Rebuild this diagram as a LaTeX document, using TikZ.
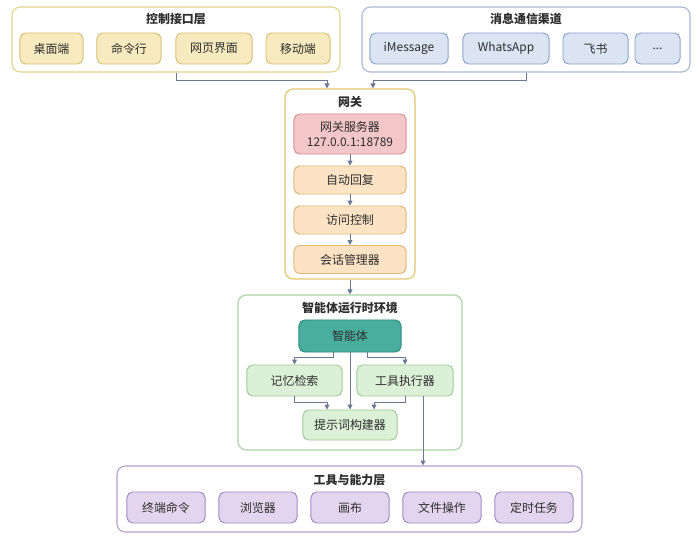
\documentclass[tikz,border=0pt]{standalone}
\usepackage{fontspec}
\setmainfont{Noto Sans CJK SC}
\usepackage{xcolor}
\usetikzlibrary{arrows.meta, calc}
\definecolor{ylwline}{HTML}{E6D28C}
\definecolor{ylwfill}{HTML}{F8EABF}
\definecolor{ylwdraw}{HTML}{D8BF78}
\definecolor{bluline}{HTML}{A9B9D6}
\definecolor{blufill}{HTML}{DAE4F3}
\definecolor{bludraw}{HTML}{8EA3C8}
\definecolor{gwline}{HTML}{E2C46E}
\definecolor{redfill}{HTML}{F3C6C8}
\definecolor{reddraw}{HTML}{D98E92}
\definecolor{orgfill}{HTML}{FCE3C4}
\definecolor{orgdraw}{HTML}{E3B67A}
\definecolor{grnline}{HTML}{A9D3A4}
\definecolor{grnfill}{HTML}{DCEFD7}
\definecolor{grndraw}{HTML}{9FCC98}
\definecolor{tealfill}{HTML}{4AAE9E}
\definecolor{tealdraw}{HTML}{2E8A7C}
\definecolor{purline}{HTML}{B2A0CF}
\definecolor{purfill}{HTML}{E3D5EE}
\definecolor{purdraw}{HTML}{A08BC4}
\definecolor{arrgray}{HTML}{6B7891}
\definecolor{txtdark}{HTML}{2E2E2E}
\tikzset{
    lyr/.style={draw=#1, line width=0.8pt, rounded corners=6pt, fill=white, inner sep=0pt},
    ttl/.style={font=\fontsize{8.5}{10.5}\selectfont\bfseries, text=txtdark, inner sep=0pt},
    cell/.style n args={2}{draw=#2, fill=#1, line width=0.7pt, rounded corners=4pt,
        inner sep=0pt, text=txtdark, align=center},
    arr/.style={draw=arrgray, line width=0.7pt, -{Triangle[length=3.5pt, width=3.5pt]}},
    dia/.style={x=0.025cm, y=-0.025cm, font=\fontsize{8.5}{10.5}\selectfont}
}

\begin{document}
\begin{tikzpicture}[dia]
    \useasboundingbox (0,0) rectangle (700,546);

    % control layer
    \node[lyr=ylwline, minimum width=8.2cm, minimum height=1.625cm] (ctrl) at (176,39.5) {};
    \node[ttl] (ctrlt) at (176,19) {控制接口层};
    \node[cell={ylwfill}{ylwdraw}, minimum width=1.575cm, minimum height=0.775cm] (desk) at (51.5,48.5) {桌面端};
    \node[cell={ylwfill}{ylwdraw}, minimum width=1.6cm, minimum height=0.775cm] (cli) at (129,48.5) {命令行};
    \node[cell={ylwfill}{ylwdraw}, minimum width=1.9cm, minimum height=0.775cm] (web) at (214,48.5) {网页界面};
    \node[cell={ylwfill}{ylwdraw}, minimum width=1.6cm, minimum height=0.775cm] (mob) at (298,48.5) {移动端};

    % message channels
    \node[lyr=bluline, minimum width=8.2cm, minimum height=1.625cm] (msg) at (526,39.5) {};
    \node[ttl] (msgt) at (526,19) {消息通信渠道};
    \node[cell={blufill}{bludraw}, minimum width=1.95cm, minimum height=0.775cm] (imsg) at (409,48.5) {iMessage};
    \node[cell={blufill}{bludraw}, minimum width=2.15cm, minimum height=0.775cm] (wa) at (506,48.5) {WhatsApp};
    \node[cell={blufill}{bludraw}, minimum width=1.625cm, minimum height=0.775cm] (fs) at (595.5,48.5) {飞书};
    \node[cell={blufill}{bludraw}, minimum width=1.125cm, minimum height=0.775cm] (more) at (657.5,48.5) {...};

    % gateway
    \node[lyr=gwline, minimum width=3.25cm, minimum height=4.75cm] (gw) at (350,184) {};
    \node[ttl] (gwt) at (350,102) {网关};
    \node[cell={redfill}{reddraw}, minimum width=2.8cm, minimum height=1cm] (srv) at (350,134) {网关服务器\\127.0.0.1:18789};
    \node[cell={orgfill}{orgdraw}, minimum width=2.8cm, minimum height=0.7cm] (auto) at (350,180) {自动回复};
    \node[cell={orgfill}{orgdraw}, minimum width=2.8cm, minimum height=0.7cm] (acl) at (350,220) {访问控制};
    \node[cell={orgfill}{orgdraw}, minimum width=2.8cm, minimum height=0.7cm] (sess) at (350,259.5) {会话管理器};

    % agent runtime
    \node[lyr=grnline, minimum width=5.6cm, minimum height=3.875cm] (rt) at (350,372.5) {};
    \node[ttl] (rtt) at (350,308) {智能体运行时环境};
    \node[cell={tealfill}{tealdraw}, minimum width=2.55cm, minimum height=0.8cm] (agent) at (350,336) {智能体};
    \node[cell={grnfill}{grndraw}, minimum width=2.375cm, minimum height=0.775cm] (mem) at (294.5,380.5) {记忆检索};
    \node[cell={grnfill}{grndraw}, minimum width=2.4cm, minimum height=0.775cm] (tool) at (405,380.5) {工具执行器};
    \node[cell={grnfill}{grndraw}, minimum width=2.35cm, minimum height=0.75cm] (prompt) at (350,425) {提示词构建器};

    % tools layer
    \node[lyr=purline, minimum width=11.625cm, minimum height=1.65cm] (tl) at (349.5,499) {};
    \node[ttl] (tlt) at (349.5,480) {工具与能力层};
    \node[cell={purfill}{purdraw}, minimum width=1.95cm, minimum height=0.775cm] (term) at (166,507.5) {终端命令};
    \node[cell={purfill}{purdraw}, minimum width=1.95cm, minimum height=0.775cm] (brw) at (258,507.5) {浏览器};
    \node[cell={purfill}{purdraw}, minimum width=1.95cm, minimum height=0.775cm] (cvs) at (350,507.5) {画布};
    \node[cell={purfill}{purdraw}, minimum width=1.95cm, minimum height=0.775cm] (file) at (442,507.5) {文件操作};
    \node[cell={purfill}{purdraw}, minimum width=1.95cm, minimum height=0.775cm] (cron) at (534,507.5) {定时任务};

    \draw[arr] (ctrl.south) -- ++(0,8) -| ([xshift=-0.575cm]gw.north);
    \draw[arr] (msg.south) -- ++(0,8) -| ([xshift=0.575cm]gw.north);
    \draw[arr] (srv) -- (auto);
    \draw[arr] (auto) -- (acl);
    \draw[arr] (acl) -- (sess);
    \draw[arr] (gw) -- (rt);

    \draw[arr] ([xshift=-0.425cm]agent.south) -- ++(0,5) -| (mem.north);
    \draw[arr] ([xshift=0.425cm]agent.south) -- ++(0,5) -| (tool.north);
    \draw[arr] (agent) -- (prompt);
    \draw[arr] (mem.south) -- ++(0,6) -| ([xshift=-0.575cm]prompt.north);
    \draw[arr] (tool.south) -- ++(0,6) -| ([xshift=0.6cm]prompt.north);
    \draw[arr] ([xshift=0.45cm]tool.south) -- ([xshift=0.45cm]tool.south |- tl.north);
\end{tikzpicture}
\end{document}
